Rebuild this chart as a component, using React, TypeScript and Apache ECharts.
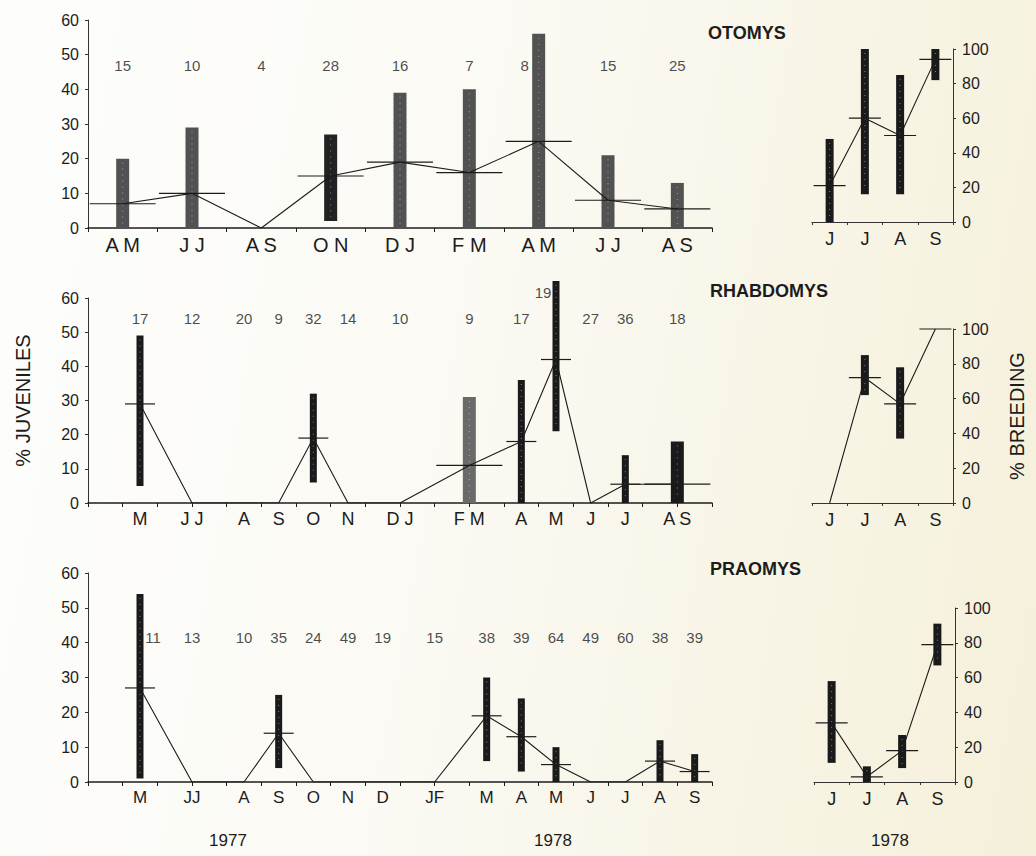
import React, { useEffect, useRef } from "react";
import * as echarts from "echarts";

// Month offsets from May 1977 (0 = May 1977); two-month samples sit between their months.

// OTOMYS — % juveniles, two-month samples
const otomysMonths = [-0.5, 1.5, 3.5, 5.5, 7.5, 9.5, 11.5, 13.5, 15.5];
const otomysMonthLabels = ["A M", "J J", "A S", "O N", "D J", "F M", "A M", "J J", "A S"];
const otomysN = [15, 10, 4, 28, 16, 7, 8, 15, 25];
const otomysLow = [0, 0, null, 2, 0, 0, 0, 0, 0];
const otomysHigh = [20, 29, null, 27, 39, 40, 56, 21, 13];
const otomysMean = [7, 10, 0, 15, 19, 16, 25, 8, 5.5];

// RHABDOMYS — % juveniles
const rhabMonths = [0, 1.5, 3, 4, 5, 6, 7.5, 9.5, 11, 12, 13, 14, 15.5];
const rhabMonthLabels = ["M", "J J", "A", "S", "O", "N", "D J", "F M", "A", "M", "J", "J", "A S"];
const rhabN = [17, 12, 20, 9, 32, 14, 10, 9, 17, 19, 27, 36, 18];
const rhabLow = [5, null, null, null, 6, null, null, 0, 0, 21, null, 0, 0];
const rhabHigh = [49, null, null, null, 32, null, null, 31, 36, 65, null, 14, 18];
const rhabMean = [29, 0, 0, 0, 19, 0, 0, 11, 18, 42, 0, 5.5, 5.5];

// PRAOMYS — % juveniles
const praoMonths = [0, 1.5, 3, 4, 5, 6, 7, 8.5, 10, 11, 12, 13, 14, 15, 16];
const praoMonthLabels = ["M", "JJ", "A", "S", "O", "N", "D", "JF", "M", "A", "M", "J", "J", "A", "S"];
const praoN = [11, 13, 10, 35, 24, 49, 19, 15, 38, 39, 64, 49, 60, 38, 39];
const praoLow = [1, null, null, 4, null, null, null, null, 6, 3, 0, null, null, 0, 0];
const praoHigh = [54, null, null, 25, null, null, null, null, 30, 24, 10, null, null, 12, 8];
const praoMean = [27, 0, 0, 14, 0, 0, 0, 0, 19, 13, 5, 0, 0, 6, 3];

// % breeding, June–September 1978
const breedMonths = ["J", "J", "A", "S"];
const otomysBreedLow = [0, 16, 16, 82];
const otomysBreedHigh = [48, 100, 85, 100];
const otomysBreedMean = [21, 60, 50, 94];
const rhabBreedLow = [null, 62, 37, null];
const rhabBreedHigh = [null, 85, 78, null];
const rhabBreedMean = [0, 72, 57, 100];
const praoBreedLow = [11, 0, 8, 67];
const praoBreedHigh = [58, 9, 27, 91];
const praoBreedMean = [34, 3, 18, 79];

const juvenileTicks = [0, 60, 10];
const breedingTicks = [0, 100, 20];

const FONT = "'Liberation Sans', Arial, sans-serif";
const NARROW = "'Liberation Sans Narrow', 'Liberation Sans', Arial, sans-serif";
const INK = "#1c1c1c";

type Box = { left: number; top: number; width: number; height: number };
type Row = {
  title: string;
  titlePos: [number, number];
  months: number[];
  labels: string[];
  n: number[];
  low: (number | null)[];
  high: (number | null)[];
  mean: number[];
  bLow: (number | null)[];
  bHigh: (number | null)[];
  bMean: number[];
  nLevel: number;
  nOffsets: Record<number, [number, number]>;
  tickStep: number;
  barColor: (i: number) => string;
  left: Box;
  right: Box;
  labelSize: number;
};

const rows: Row[] = [
  {
    title: "OTOMYS",
    titlePos: [708, 24],
    months: otomysMonths,
    labels: otomysMonthLabels,
    n: otomysN,
    low: otomysLow,
    high: otomysHigh,
    mean: otomysMean,
    bLow: otomysBreedLow,
    bHigh: otomysBreedHigh,
    bMean: otomysBreedMean,
    nLevel: 47,
    nOffsets: { 6: [-14, 0] },
    tickStep: 2,
    barColor: (i) => (i === 3 ? "#222" : "#525252"),
    left: { left: 88, top: 20, width: 624, height: 208 },
    right: { left: 812, top: 49, width: 141, height: 173 },
    labelSize: 20,
  },
  {
    title: "RHABDOMYS",
    titlePos: [710, 282],
    months: rhabMonths,
    labels: rhabMonthLabels,
    n: rhabN,
    low: rhabLow,
    high: rhabHigh,
    mean: rhabMean,
    bLow: rhabBreedLow,
    bHigh: rhabBreedHigh,
    bMean: rhabBreedMean,
    nLevel: 54,
    nOffsets: { 9: [-13, -26] },
    tickStep: 1,
    barColor: (i) => (i === 7 ? "#6a6a6a" : "#1a1a1a"),
    left: { left: 88, top: 298, width: 624, height: 205 },
    right: { left: 812, top: 329, width: 141, height: 174 },
    labelSize: 18,
  },
  {
    title: "PRAOMYS",
    titlePos: [710, 560],
    months: praoMonths,
    labels: praoMonthLabels,
    n: praoN,
    low: praoLow,
    high: praoHigh,
    mean: praoMean,
    bLow: praoBreedLow,
    bHigh: praoBreedHigh,
    bMean: praoBreedMean,
    nLevel: 41.6,
    nOffsets: { 0: [13, 0] },
    tickStep: 1,
    barColor: () => "#1a1a1a",
    left: { left: 88, top: 573, width: 624, height: 209 },
    right: { left: 814, top: 608, width: 141, height: 174 },
    labelSize: 17,
  },
];

function boundaryTicks(step: number): number[] {
  const t: number[] = [];
  for (let v = -1.5; v <= 16.5 + 1e-9; v += step) t.push(v);
  return t;
}

// Vertical range bar with a speckled centre line
const barRenderer =
  (widthOf: (x: number) => number, colorOf: (i: number) => string) => (_p: any, api: any) => {
    const x = api.value(0);
    const top = api.coord([x, api.value(2)]);
    const bot = api.coord([x, api.value(1)]);
    const w = widthOf(x);
    return {
      type: "group",
      children: [
        {
          type: "rect",
          shape: { x: top[0] - w / 2, y: top[1], width: w, height: bot[1] - top[1] },
          style: { fill: colorOf(api.value(3)) },
        },
        {
          type: "line",
          shape: { x1: top[0], y1: top[1] + 4, x2: top[0], y2: bot[1] - 4 },
          style: { stroke: "rgba(255,255,255,0.45)", lineWidth: 1, lineDash: [1, 5] },
        },
      ],
    };
  };

// Short horizontal stroke at the mean
const meanRenderer = (halfOf: (x: number) => number) => (_p: any, api: any) => {
  const x = api.value(0);
  const c = api.coord([x, api.value(1)]);
  const h = halfOf(x);
  return {
    type: "line",
    shape: { x1: c[0] - h, y1: c[1], x2: c[0] + h, y2: c[1] },
    style: { stroke: INK, lineWidth: 1.2 },
  };
};

function buildOption() {
  const grid: any[] = [];
  const xAxis: any[] = [];
  const yAxis: any[] = [];
  const series: any[] = [];

  rows.forEach((r, k) => {
    const gl = k * 2;
    const gr = k * 2 + 1;
    grid.push({ ...r.left });
    grid.push({ ...r.right });

    const labelMap = new Map<number, string>();
    r.months.forEach((m, i) => labelMap.set(m, r.labels[i]));

    xAxis.push({
      type: "value",
      gridIndex: gl,
      min: -1.5,
      max: 16.5,
      axisLine: { show: true, onZero: false, lineStyle: { color: INK, width: 1.5 } },
      axisTick: { show: true, customValues: boundaryTicks(r.tickStep), length: 4, lineStyle: { color: INK } },
      axisLabel: {
        customValues: r.months,
        formatter: (v: number) => labelMap.get(v) ?? "",
        fontSize: r.labelSize,
        color: INK,
        fontFamily: FONT,
        margin: 7,
      },
      splitLine: { show: false },
    });
    xAxis.push({
      type: "category",
      gridIndex: gr,
      data: breedMonths,
      boundaryGap: true,
      axisLine: { show: true, onZero: false, lineStyle: { color: "#333", width: 1 } },
      axisTick: { show: true, length: 3, lineStyle: { color: "#333" } },
      axisLabel: { fontSize: 18, color: INK, fontFamily: FONT, margin: 8 },
      splitLine: { show: false },
    });

    yAxis.push({
      type: "value",
      gridIndex: gl,
      min: juvenileTicks[0],
      max: juvenileTicks[1],
      interval: juvenileTicks[2],
      axisLine: { show: true, onZero: false, lineStyle: { color: "#333", width: 1 } },
      axisTick: { show: true, length: 3, lineStyle: { color: "#333" } },
      axisLabel: { fontSize: 16, color: INK, fontFamily: FONT, margin: 9 },
      splitLine: { show: false },
      ...(k === 1
        ? {
            name: "% JUVENILES",
            nameLocation: "middle",
            nameRotate: 90,
            nameGap: 55,
            nameTextStyle: { fontSize: 20, color: INK, fontFamily: NARROW },
          }
        : {}),
    });
    yAxis.push({
      type: "value",
      gridIndex: gr,
      position: "right",
      min: breedingTicks[0],
      max: breedingTicks[1],
      interval: breedingTicks[2],
      axisLine: { show: true, onZero: false, lineStyle: { color: "#333", width: 1 } },
      axisTick: { show: true, length: 3, lineStyle: { color: "#333" } },
      axisLabel: { fontSize: 16, color: INK, fontFamily: FONT, margin: 9 },
      splitLine: { show: false },
      ...(k === 1
        ? {
            name: "% BREEDING",
            nameLocation: "middle",
            nameRotate: 90,
            nameGap: 54,
            nameTextStyle: { fontSize: 20, color: INK, fontFamily: NARROW },
          }
        : {}),
    });

    // juvenile range bars
    const bars: number[][] = [];
    r.months.forEach((m, i) => {
      const lo = r.low[i];
      const hi = r.high[i];
      if (lo !== null && hi !== null) bars.push([m, lo, hi, i]);
    });
    series.push({
      type: "custom",
      xAxisIndex: gl,
      yAxisIndex: gl,
      data: bars,
      clip: false,
      z: 2,
      silent: true,
      renderItem: barRenderer((x) => (Number.isInteger(x) ? 7 : 13), r.barColor),
    });
    // mean strokes
    series.push({
      type: "custom",
      xAxisIndex: gl,
      yAxisIndex: gl,
      data: r.months.map((m, i) => [m, r.mean[i]]).filter((d) => d[1] > 0),
      z: 4,
      silent: true,
      renderItem: meanRenderer((x) => (Number.isInteger(x) ? 15 : 33)),
    });
    // joined means
    series.push({
      type: "line",
      xAxisIndex: gl,
      yAxisIndex: gl,
      data: r.months.map((m, i) => [m, r.mean[i]]),
      symbol: "none",
      z: 5,
      silent: true,
      lineStyle: { color: INK, width: 1.1 },
    });
    // sample sizes
    series.push({
      type: "scatter",
      xAxisIndex: gl,
      yAxisIndex: gl,
      symbolSize: 1,
      silent: true,
      itemStyle: { color: "rgba(0,0,0,0)" },
      data: r.n.map((v, i) => ({
        value: [r.months[i], r.nLevel, v],
        label: r.nOffsets[i] ? { offset: r.nOffsets[i] } : undefined,
      })),
      label: {
        show: true,
        position: "inside",
        formatter: (p: any) => String(p.value[2]),
        fontSize: 15,
        color: INK,
        fontFamily: FONT,
      },
    });

    // breeding panel
    const bBars: number[][] = [];
    breedMonths.forEach((_m, i) => {
      const lo = r.bLow[i];
      const hi = r.bHigh[i];
      if (lo !== null && hi !== null) bBars.push([i, lo, hi, i]);
    });
    series.push({
      type: "custom",
      xAxisIndex: gr,
      yAxisIndex: gr,
      data: bBars,
      z: 2,
      silent: true,
      renderItem: barRenderer(() => 8, () => "#1a1a1a"),
    });
    series.push({
      type: "custom",
      xAxisIndex: gr,
      yAxisIndex: gr,
      data: r.bMean.map((v, i) => [i, v]).filter((d) => d[1] > 0),
      z: 4,
      silent: true,
      renderItem: meanRenderer(() => 16),
    });
    series.push({
      type: "line",
      xAxisIndex: gr,
      yAxisIndex: gr,
      data: r.bMean.map((v, i) => [i, v]),
      symbol: "none",
      z: 5,
      silent: true,
      lineStyle: { color: INK, width: 1.1 },
    });
  });

  const title = rows.map((r) => ({
    text: r.title,
    left: r.titlePos[0],
    top: r.titlePos[1],
    padding: 0,
    textStyle: { fontFamily: NARROW, fontWeight: "bold", fontSize: 18, color: INK },
  }));

  const years: [string, number, number][] = [
    ["1977", 228, 840],
    ["1978", 553, 840],
    ["1978", 890, 840],
  ];

  return {
    animation: false,
    backgroundColor: "transparent",
    textStyle: { fontFamily: FONT },
    title,
    grid,
    xAxis,
    yAxis,
    series,
    graphic: years.map(([t, x, y]) => ({
      type: "text",
      x,
      y,
      style: {
        text: t,
        fontSize: 17,
        fontFamily: NARROW,
        fill: INK,
        textAlign: "center",
        textVerticalAlign: "middle",
      },
    })),
  };
}

export default function App() {
  const ref = useRef<HTMLDivElement>(null);
  useEffect(() => {
    if (!ref.current) return;
    const chart = echarts.init(ref.current, undefined, { renderer: "svg" });
    chart.setOption(buildOption() as any);
    return () => chart.dispose();
  }, []);
  return (
    <div
      ref={ref}
      style={{
        position: "fixed",
        left: 0,
        top: 0,
        width: 1036,
        height: 856,
        background: "linear-gradient(100deg, #fdfdfc 0%, #fbfaf4 42%, #f5f0da 100%)",
      }}
    />
  );
}
